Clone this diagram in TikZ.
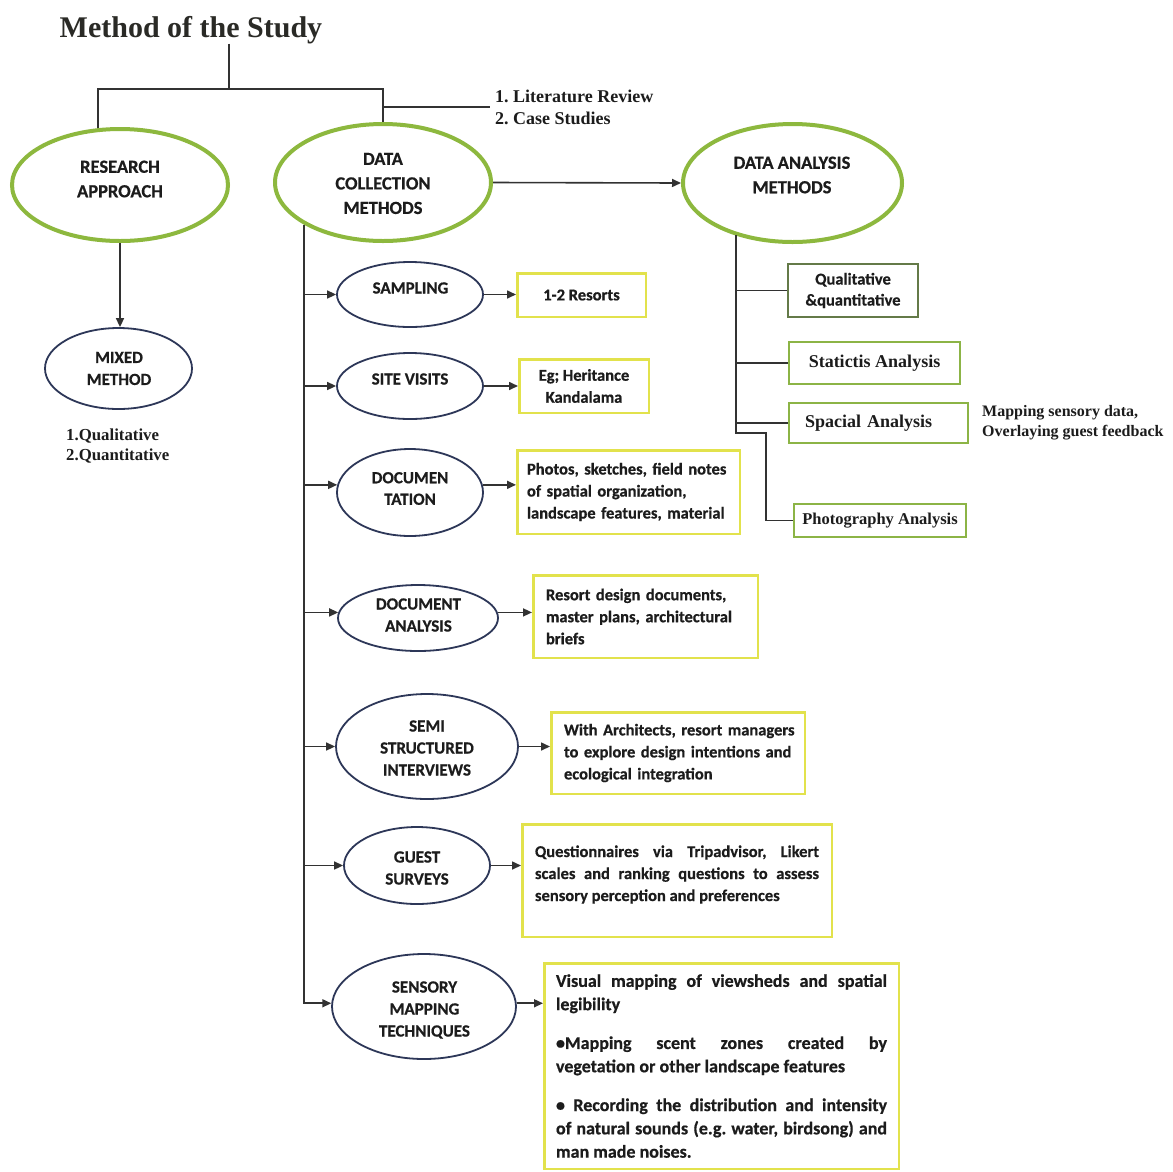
\documentclass[tikz,border=0pt]{standalone}
\usepackage{fontspec}
\setmainfont{Carlito}[BoldFeatures={FakeBold=0.6}]
\newfontfamily\tnr{Liberation Serif}
\usetikzlibrary{arrows.meta,shapes.geometric}
\definecolor{ellgreen}{RGB}{141,184,62}
\definecolor{navy}{RGB}{45,55,88}
\definecolor{yboxc}{RGB}{226,226,76}
\definecolor{gboxc}{RGB}{140,180,70}
\definecolor{qboxc}{RGB}{100,122,72}
\definecolor{ink}{RGB}{28,28,28}
\definecolor{linec}{RGB}{50,50,50}
\frenchspacing
\hfuzz=20pt
\begin{document}
\begin{tikzpicture}[x=1pt,y=-1pt,
  gell/.style={ellipse, draw=ellgreen, line width=4pt, inner sep=0pt},
  bell/.style={ellipse, draw=navy, line width=1.8pt, inner sep=0pt},
  gtext/.style={font=\fontsize{18.5}{24.5}\selectfont\bfseries, text=ink, align=center, inner sep=0pt},
  btext/.style={font=\fontsize{17}{22}\selectfont\bfseries, text=ink, align=center, inner sep=0pt},
  yb/.style={rectangle, draw=yboxc, line width=2.5pt, font=\fontsize{16.5}{22}\selectfont\bfseries, text=ink, align=left},
  gb/.style={rectangle, draw=gboxc, line width=2.5pt, font=\tnr\fontsize{18}{22}\selectfont\bfseries, text=ink},
  serif/.style={font=\tnr\fontsize{18}{22}\selectfont\bfseries, text=ink, align=left, inner sep=0pt},
  tree/.style={draw=linec, line width=2.2pt},
  conn/.style={draw=linec, line width=1.6pt},
  arr/.style={conn, -{Triangle[length=9pt,width=8pt]}},
]
\fill[white] (0,0) rectangle (1173,1171);
\useasboundingbox (0,0) rectangle (1173,1171);

% title
\node[font=\tnr\fontsize{30}{36}\selectfont\bfseries, text={rgb,255:red,42;green,42;blue,38}, anchor=base, inner sep=0pt] (title) at (191,37) {Method of the Study};

% main ellipses
\node[gell, minimum width=216pt, minimum height=112pt] (ra) at (120,185) {};
\node[gtext] (ratx) at (120,179) {RESEARCH\\APPROACH};
\node[gell, minimum width=216pt, minimum height=117pt] (dc) at (383,182.5) {};
\node[gtext] (dctx) at (383,183.5) {DATA\\COLLECTION\\METHODS};
\node[gell, minimum width=219pt, minimum height=118pt] (da) at (792.5,183) {};
\node[gtext] (datx) at (792,175) {DATA ANALYSIS\\METHODS};

% literature review
\node[serif, anchor=west] (lit) at (495,107) {1. Literature Review\\2. Case Studies};

% top tree
\coordinate (j) at (229,89);
\draw[tree] (title.south -| j) -- (j);
\draw[tree] (ra.111) -- (ra.111 |- j) -- (dc.north |- j) -- (dc.north);
\draw[tree] (dc.north |- lit.west) -- ([xshift=-5pt]lit.west);

% research approach branch
\node[bell, minimum width=147pt, minimum height=81pt] (mix) at (118.5,368.5) {};
\node[btext] (mixtx) at (119,368.5) {MIXED\\METHOD};
\draw[arr] (ra.south) -- (ra.south |- mix.north);
\node[serif, font=\tnr\fontsize{16.8}{20}\selectfont\bfseries, anchor=west] (ql) at (66,446) {1.Qualitative\\2.Quantitative};

% data collection to analysis
\draw[arr] (dc.east) -- (da.west);

% data collection methods
\node[bell, minimum width=146pt, minimum height=65pt] (samp) at (410,294.5) {};
\node[btext] (samptx) at (410.5,288) {SAMPLING};
\node[bell, minimum width=146pt, minimum height=66pt] (site) at (410,386) {};
\node[btext] (sitetx) at (410,379) {SITE VISITS};
\node[bell, minimum width=146pt, minimum height=87pt] (docu) at (410,492.5) {};
\node[btext, font=\fontsize{17}{21.5}\selectfont\bfseries] (docutx) at (410,488.5) {DOCUMEN\\TATION};
\node[bell, minimum width=160pt, minimum height=66pt] (dan) at (418,618) {};
\node[btext] (dantx) at (418.5,615) {DOCUMENT\\ANALYSIS};
\node[bell, minimum width=182pt, minimum height=105pt] (semi) at (427,746.5) {};
\node[btext] (semitx) at (427,748) {SEMI\\STRUCTURED\\INTERVIEWS};
\node[bell, minimum width=146pt, minimum height=77pt] (gst) at (417,865.5) {};
\node[btext] (gsttx) at (417,868) {GUEST\\SURVEYS};
\node[bell, minimum width=184pt, minimum height=105pt] (sens) at (424,1006.5) {};
\node[btext] (senstx) at (424.5,1010) {SENSORY\\MAPPING\\TECHNIQUES};

% yellow boxes
\node[yb, align=center, minimum width=128.5pt, minimum height=43.5pt] (y1) at (581.5,295) {1-2 Resorts};
\node[yb, align=center, minimum width=129.5pt, minimum height=53.5pt] (y2) at (584,386) {Eg; Heritance\\Kandalama};
\node[yb, text width=203pt, inner xsep=9.75pt, minimum height=83.5pt] (y3) at (628.5,492) {Photos, sketches, field notes\\of spatial organization,\\landscape features, material};
\node[yb, text width=199pt, inner xsep=12.75pt, minimum height=82.5pt] (y4) at (645.5,616.5) {Resort design documents,\\master plans, architectural\\briefs};
\node[yb, text width=228pt, inner xsep=12.75pt, minimum height=81.5pt] (y5) at (678,753) {\mbox{With Architects, resort managers}\\\mbox{to explore design intentions and}\\ecological integration};
\node[yb, align=justify, text width=284pt, inner xsep=12.75pt, minimum height=112.5pt] (y6) at (677,880.5) {Questionnaires via Tripadvisor, Likert\linebreak scales and ranking questions to assess\linebreak sensory perception and preferences\par\vspace{12pt}};
\node[yb, align=justify, font=\fontsize{18}{23.3}\selectfont\bfseries, text width=331pt, inner xsep=11.75pt, minimum height=205.5pt] (y7) at (721.5,1066) {Visual mapping of viewsheds and spatial\linebreak legibility\par\vspace{15.5pt}%
\textbullet Mapping scent zones created by\linebreak vegetation or other landscape features\par\vspace{15.5pt}%
\textbullet\ Recording the distribution and intensity\linebreak of natural sounds (e.g. water, birdsong) and\linebreak man made noises.};

% trunk and arrows
\coordinate (trunk) at (304,0);
\draw[arr] (trunk |- dc.208) |- (sens.178);
\draw[arr] (trunk |- samp.180) -- (samp.180);
\draw[arr] (trunk |- site.180) -- (site.180);
\draw[arr] (trunk |- docu.174) -- (docu.174);
\draw[arr] (trunk |- dan.176) -- (dan.176);
\draw[arr] (trunk |- semi.180) -- (semi.180);
\draw[arr] (trunk |- gst.180) -- (gst.180);

\draw[arr] (samp.0) -- (samp.0 -| y1.west);
\draw[arr] (site.0) -- (site.0 -| y2.west);
\draw[arr] (docu.6) -- (docu.6 -| y3.west);
\draw[arr] (dan.4) -- (dan.4 -| y4.west);
\draw[arr] (semi.0) -- (semi.0 -| y5.west);
\draw[arr] (gst.0) -- (gst.0 -| y6.west);
\draw[arr] (sens.2) -- (sens.2 -| y7.west);

% analysis boxes
\node[gb, draw=qboxc, line width=2pt, font=\fontsize{16.5}{21}\selectfont\bfseries, align=center, minimum width=130pt, minimum height=53pt] (qual) at (853,290.5) {Qualitative\\\&quantitative};
\node[gb, minimum width=171pt, minimum height=42pt] (stat) at (874.5,363) {Statictis Analysis};
\node[gb, align=left, text width=147pt, inner xsep=16pt, minimum height=40pt] (spac) at (878.5,423) {Spacial Analysis};
\node[gb, font=\tnr\fontsize{16.5}{20}\selectfont\bfseries, minimum width=172pt, minimum height=33pt] (photo) at (880,520.5) {Photography Analysis};
\node[serif, font=\tnr\fontsize{16}{20}\selectfont\bfseries, anchor=west] (mapn) at (982,423) {Mapping sensory data,\\Overlaying guest feedback};

\coordinate (rtrunk) at (736,0);
\coordinate (rt) at (736,433);
\draw[conn] (rtrunk |- da.222) -- (rt) -- ++(30,0) |- (photo.west);
\draw[conn] (rtrunk |- qual.west) -- (qual.west);
\draw[conn] (rtrunk |- stat.west) -- (stat.west);
\draw[conn] (rtrunk |- spac.west) -- (spac.west);
\end{tikzpicture}
\end{document}
